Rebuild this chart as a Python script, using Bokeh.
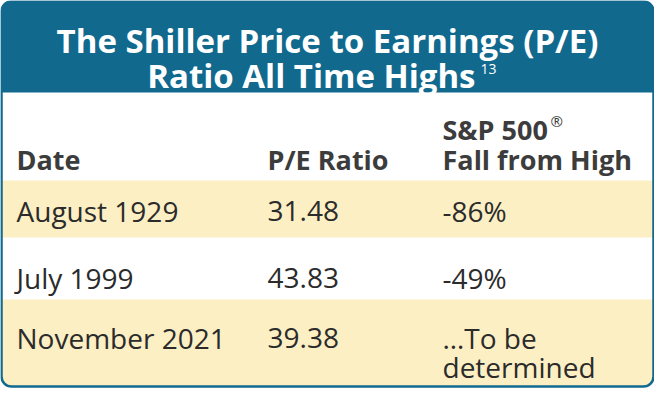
from bokeh.plotting import figure
from bokeh.models import Range1d, ColumnDataSource
from bokeh.core.properties import value
from bokeh.embed import file_html
from bokeh.resources import INLINE

# ---- data ----
title_lines = ["The Shiller Price to Earnings (P/E)", "Ratio All Time Highs"]
title_note = "13"
col_headers = ["Date", "P/E Ratio", "S&P 500\nFall from High"]
dates = ["August 1929", "July 1999", "November 2021"]
pe_ratios = [31.48, 43.83, 39.38]
falls = ["-86%", "-49%", "\u2026To be\ndetermined"]

BLUE = "#12698e"
BEIGE = "#fcefc4"
TXT = "#2b2b2b"
HDR = "#3c3c3c"
FONT = "Open Sans"

W, H = 654, 388
p = figure(width=W, height=H, output_backend="svg", toolbar_location=None,
           x_range=Range1d(8, 8 + W), y_range=Range1d(8 + H, 8),
           min_border=0, outline_line_color=None, background_fill_color="white",
           border_fill_color="white")
p.axis.visible = False
p.grid.visible = False

L, R, T, B = 9, 661, 9, 394
p.quad(left=L, right=R, top=T, bottom=B, fill_color="white", line_color=None, border_radius=10)
p.quad(left=L, right=R, top=T, bottom=100, fill_color=BLUE, line_color=None,
       border_radius=(10, 10, 0, 0))
row_tops = [188, 245, 307]
row_bots = [245, 307, B]
for i, (t, b) in enumerate(zip(row_tops, row_bots)):
    if i % 2 == 0:
        rad = (0, 0, 10, 10) if i == len(dates) - 1 else 0
        p.quad(left=L, right=R, top=t, bottom=b, fill_color=BEIGE, line_color=None,
               border_radius=rad)
p.quad(left=L, right=R, top=T, bottom=B, fill_color=None, line_color=BLUE,
       line_width=2.5, border_radius=10)

# title
cx = (L + R) / 2
p.text(x=[cx], y=[48], text=[title_lines[0]], text_align="center",
       text_baseline="alphabetic", text_color="white", text_font=value(FONT),
       text_font_style="bold", text_font_size="33px")
p.text(x=[483], y=[83], text=[title_lines[1]], text_align="right",
       text_baseline="alphabetic", text_color="white", text_font=value(FONT),
       text_font_size="33px", text_font_style="bold")
p.text(x=[488], y=[76], text=[title_note], text_align="left",
       text_baseline="alphabetic", text_color="white", text_font=value(FONT),
       text_font_size="14px")

col_x = [24, 275, 450]
for xx, h in zip(col_x, col_headers):
    lines = h.split("\n")
    for j, ln in enumerate(lines):
        yb = 167 - (len(lines) - 1 - j) * 30
        p.text(x=[xx], y=[yb], text=[ln], text_align="left", text_baseline="alphabetic",
               text_color=HDR, text_font=value(FONT), text_font_style="bold",
               text_font_size="27px")
# registered mark after "S&P 500"
p.text(x=[col_x[2] + 108], y=[128], text=["\u00ae"], text_align="left",
       text_baseline="alphabetic", text_color=HDR, text_font=value(FONT),
       text_font_size="15px")

baselines = [218, 285, 345]
src = ColumnDataSource(dict(
    x0=[col_x[0]] * len(dates), x1=[col_x[1]] * len(dates), y=baselines,
    d=dates, pe=[f"{v:.2f}" for v in pe_ratios]))
for col, xc in (("d", "x0"), ("pe", "x1")):
    p.text(x=xc, y="y", text=col, source=src, text_align="left",
           text_baseline="alphabetic", text_color=TXT, text_font=value(FONT),
           text_font_size="28px")
for yb, f in zip(baselines, falls):
    for j, ln in enumerate(f.split("\n")):
        p.text(x=[col_x[2]], y=[yb + j * 29], text=[ln], text_align="left",
               text_baseline="alphabetic", text_color=TXT, text_font=value(FONT),
               text_font_size="28px")

open("out.html", "w").write(file_html(p, INLINE))
